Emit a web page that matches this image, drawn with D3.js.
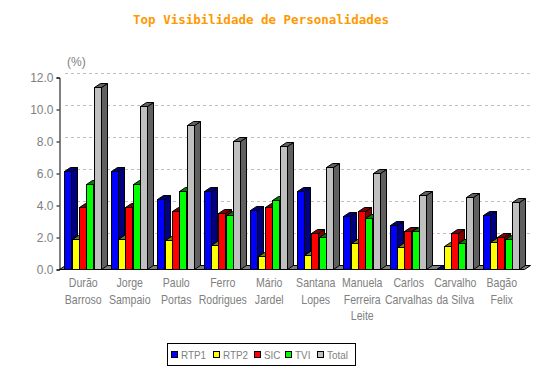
<!DOCTYPE html>
<html>
<head>
<meta charset="utf-8">
<script src="https://cdn.jsdelivr.net/npm/d3@7"></script>
<style>
  body { margin: 0; background: #fff; }
  svg text { font-family: "Liberation Sans", Arial, sans-serif; fill: #808080; }
</style>
</head>
<body>
<svg id="chart" width="547" height="382"></svg>
<script>
// data
const categories = [
  ['Durão', 'Barroso'], ['Jorge', 'Sampaio'], ['Paulo', 'Portas'], ['Ferro', 'Rodrigues'],
  ['Mário', 'Jardel'], ['Santana', 'Lopes'], ['Manuela', 'Ferreira', 'Leite'],
  ['Carlos', 'Carvalhas'], ['Carvalho', 'da Silva'], ['Bagão', 'Felix']
];
const seriesNames = ['RTP1', 'RTP2', 'SIC', 'TVI', 'Total'];
const rtp1  = [6.1, 6.1, 4.4, 4.9, 3.7, 4.9, 3.3, 2.75, 0, 3.4];
const rtp2  = [1.9, 1.9, 1.8, 1.5, 0.8, 0.85, 1.6, 1.4, 1.45, 1.7];
const sic   = [3.9, 3.9, 3.65, 3.5, 3.9, 2.25, 3.65, 2.4, 2.25, 2.0];
const tvi   = [5.3, 5.3, 4.9, 3.35, 4.3, 2.0, 3.2, 2.4, 1.65, 1.9];
const total = [11.4, 10.2, 9.0, 8.0, 7.7, 6.4, 6.0, 4.6, 4.5, 4.2];
const yTicks = [0, 2, 4, 6, 8, 10, 12];

const values = [rtp1, rtp2, sic, tvi, total];
const front = ['#0000ff', '#ffff00', '#ff0000', '#00ff00', '#c0c0c0'];
const dark  = ['#000080', '#808000', '#800000', '#008000', '#606060'];

const dx = 6, dy = 4;
const left = 59, right = 524, base = 269;

const svg = d3.select('#chart');

const x = d3.scaleBand()
  .domain(d3.range(categories.length))
  .range([left, right]);

const xs = d3.scaleBand()
  .domain(seriesNames)
  .range([5.3, 5.3 + 36.5]);

const y = d3.scaleLinear()
  .domain([0, 12])
  .range([base, 77]);

// title
svg.append('text')
  .attr('x', 261)
  .attr('y', 24)
  .attr('text-anchor', 'middle')
  .style('font-family', '"DejaVu Sans Mono", monospace')
  .style('font-weight', 'bold')
  .style('font-size', '12.5px')
  .style('fill', '#ff9900')
  .text('Top Visibilidade de Personalidades');

svg.append('text')
  .attr('x', 67)
  .attr('y', 66)
  .style('font-size', '12px')
  .text('(%)');

// back wall grid
svg.append('g')
  .selectAll('line')
  .data(yTicks.filter(d => d > 0))
  .enter()
  .append('line')
  .attr('x1', left + dx)
  .attr('x2', right + dx)
  .attr('y1', d => Math.round(y(d)) - dy + 0.5)
  .attr('y2', d => Math.round(y(d)) - dy + 0.5)
  .attr('stroke', '#c0c0c0')
  .attr('stroke-dasharray', '3,3');

// y axis
const yAxis = d3.axisLeft(y)
  .tickValues(yTicks)
  .tickFormat(d3.format('.1f'))
  .tickSize(3)
  .tickPadding(3);

const ga = svg.append('g')
  .attr('transform', 'translate(' + (left + 0.5) + ',0.5)')
  .call(yAxis);
ga.select('.domain').attr('stroke', '#000');
ga.selectAll('.tick line').attr('stroke', '#000');
ga.selectAll('.tick text')
  .style('font-family', '"Liberation Sans", Arial, sans-serif')
  .style('font-size', '12px')
  .attr('fill', '#808080');

// floor
svg.append('polygon')
  .attr('points', [[left, base], [left + dx, base - dy], [right + dx, base - dy], [right, base]]
    .map(p => (p[0] + 0.5) + ',' + (p[1] + 0.5)).join(' '))
  .attr('fill', '#808080')
  .attr('stroke', '#000');

// bars, drawn left to right so each bar hides the side of the one before
const bars = svg.append('g');
categories.forEach((c, i) => {
  seriesNames.forEach((s, j) => {
    const v = values[j][i];
    const x0 = Math.round(x(i) + xs(s)) + 0.5;
    const w = Math.round(xs.bandwidth());
    const yt = Math.round(y(v)) + 0.5;
    const yb = base + 0.5;
    const g = bars.append('g').attr('stroke', '#000').attr('stroke-width', 1);
    g.append('polygon')
      .attr('points', [[x0 + w, yt], [x0 + w + dx, yt - dy], [x0 + w + dx, yb - dy], [x0 + w, yb]].join(' '))
      .attr('fill', dark[j]);
    g.append('polygon')
      .attr('points', [[x0, yt], [x0 + dx, yt - dy], [x0 + w + dx, yt - dy], [x0 + w, yt]].join(' '))
      .attr('fill', dark[j]);
    g.append('rect')
      .attr('x', x0)
      .attr('y', yt)
      .attr('width', w)
      .attr('height', yb - yt)
      .attr('fill', front[j]);
  });
});

// category labels
const lab = svg.append('g')
  .selectAll('g')
  .data(categories)
  .enter()
  .append('g')
  .attr('transform', (d, i) => 'translate(' + (x(i) + x.bandwidth() / 2 + 1) + ',0)');
lab.selectAll('text')
  .data(d => d)
  .enter()
  .append('text')
  .attr('transform', (d, k) => 'translate(0,' + (287 + k * 16.5) + ') scale(0.88,1)')
  .attr('text-anchor', 'middle')
  .style('font-size', '12px')
  .text(d => d);

// legend
const leg = svg.append('g');
leg.append('rect')
  .attr('x', 167.5)
  .attr('y', 343.5)
  .attr('width', 188)
  .attr('height', 22)
  .attr('fill', '#fff')
  .attr('stroke', '#000');
const legX = [171, 213, 254, 285, 317];
const items = leg.selectAll('g.item')
  .data(seriesNames)
  .enter()
  .append('g')
  .attr('class', 'item')
  .attr('transform', (d, i) => 'translate(' + legX[i] + ',0)');
items.append('rect')
  .attr('x', 0.5)
  .attr('y', 351.5)
  .attr('width', 6)
  .attr('height', 6)
  .attr('fill', (d, i) => front[i])
  .attr('stroke', '#000');
items.append('text')
  .attr('transform', 'translate(10,359) scale(0.9,1)')
  .style('font-size', '11px')
  .text(d => d);
</script>
</body>
</html>
